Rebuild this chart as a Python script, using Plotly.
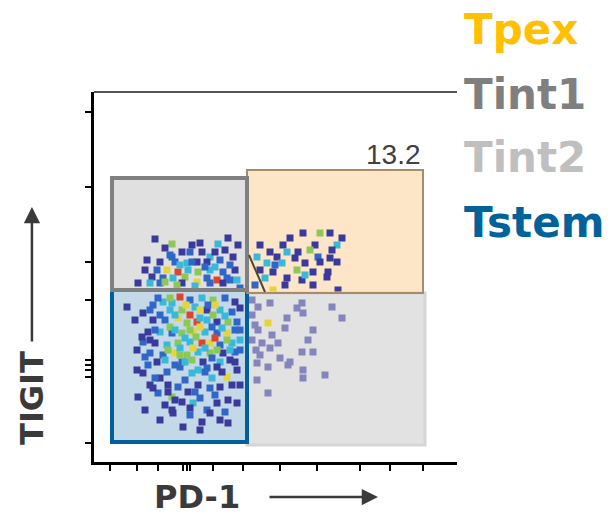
import plotly.graph_objects as go

# ---- data (PD-1 / TIGIT channel units) ----
pd1 = [65,82,138,128,135,148,92,100,112,82,120,70,85,97,107,117,130,143,67,77,88,98,108,120,133,145,62,73,83,95,107,117,127,137,147,48,60,70,92,120,133,
       213,230,240,252,170,193,225,247,180,197,208,220,242,167,187,205,228,177,192,215,247,170,183,207,223,238,175,197,212,237,183,223,248,165,
       37,53,63,73,90,100,112,123,135,145,80,92,105,117,130,142,63,75,88,97,107,117,127,138,147,58,70,82,92,103,115,127,137,53,65,77,88,100,112,120,130,142,
       60,73,85,97,108,120,133,145,67,92,113,130,52,55,
       53,77,90,102,117,127,137,147,60,68,78,88,98,108,120,130,48,82,92,103,117,138,127,82,100,120,93,138,147,63,83,
       168,180,212,207,242,213,252,178,197,195,223,168,182,188,218,172,180,212,223,170,190,200,178,167,235,213,213,198,167,178,162,165,162,166,162,
       68,82,96,118,150,70,85,100,123,135,80,110,122,132,150,60,95,106,125,137,150,78,90,103,115,127,150,75,102,122,140,85,108,70,95,122,150,75,110,55,135,110,70,
       55,102,125,140,87,105,150,75,110,
       45,47,58,65,85,100,110,95,115,132,140,145,105,85,125,65,100,142,112,78,130,90,125,60,145,47,80,110,
       80,125,57,102,140,115,90,75,
       200,185,215,230,195,240]
tigit = [231,226,232,226,220,225,218,218,218,213,213,208,208,207,208,208,210,213,200,200,198,200,198,200,198,200,193,192,192,193,188,192,190,192,190,187,187,187,187,187,187,
         237,237,237,232,225,225,225,225,218,218,218,220,220,213,213,212,213,207,207,207,208,200,198,200,198,198,192,192,190,193,180,185,180,185,
         163,157,165,168,173,170,172,170,172,168,160,160,163,160,160,158,150,150,152,147,148,150,148,148,148,138,138,137,137,138,138,137,137,128,127,125,127,128,127,127,125,127,
         117,115,117,115,118,117,117,118,108,108,108,108,133,113,
         97,98,103,97,102,103,93,100,85,77,85,83,78,85,82,83,73,73,68,67,60,70,67,60,55,57,43,47,67,82,57,
         163,167,167,162,163,157,152,147,152,142,140,140,135,127,130,127,122,118,118,115,112,108,77,90,95,92,100,105,107,103,155,145,130,120,170,
         172,167,165,165,162,155,155,155,155,154,143,143,143,142,140,130,132,133,132,130,130,120,122,122,122,120,120,110,110,112,110,105,100,92,90,92,85,65,72,60,58,40,50,
         200,208,203,205,185,184,182,222,227,
         150,120,105,140,140,140,152,108,98,98,120,140,78,70,75,92,62,85,48,78,50,115,165,160,108,100,172,160,
         215,218,210,225,190,203,205,188,
         232,205,195,208,185,212]
density = [1,4,1,3,1,1,1,2,1,2,3,1,2,3,1,1,2,1,2,5,6,3,4,3,2,1,1,2,3,4,5,2,6,2,3,1,3,2,1,2,1,
           1,4,1,1,1,1,1,3,1,3,1,4,1,3,1,1,2,3,3,1,1,1,1,4,1,1,3,1,1,1,5,1,1,2,
           1,1,2,3,6,2,3,4,2,1,3,4,3,1,3,2,1,2,5,4,6,3,1,4,2,1,3,2,4,5,3,2,5,2,1,3,4,3,6,5,2,3,
           2,2,5,4,3,4,1,2,1,2,1,3,1,2,
           1,2,2,3,2,1,5,1,1,2,1,2,1,1,2,1,1,4,1,3,2,1,1,1,2,1,1,1,1,1,1,
           0,0,0,0,0,0,0,5,0,0,0,0,0,0,0,0,0,0,0,0,0,0,0,0,0,0,0,0,0,0,0,0,0,0,0,
           2,3,5,2,1,2,3,6,4,3,4,5,2,3,2,1,3,4,6,4,3,4,3,5,3,4,2,3,4,2,1,2,3,1,2,3,1,1,2,1,2,1,1,
           1,2,3,2,4,3,2,1,1,
           1,1,2,2,3,4,3,3,2,1,3,2,2,1,2,2,1,1,1,1,1,4,5,2,1,1,4,5,
           2,1,1,1,2,2,3,4,
           1,2,3,1,1,1]

gate_names = ["Tint2", "Tstem", "Tpex", "Tint1"]
gate_x0 = [157, 22, 157, 22]
gate_x1 = [335, 157, 333, 157]
gate_y0 = [25, 28, 177, 180]
gate_y1 = [177, 180, 300, 292]
tpex_pct = "13.2"

legend_labels = ["Tpex", "Tint1", "Tint2", "Tstem"]

# ---- style ----
density_colors = {0: "#8585bd", 1: "#3a3a9c", 2: "#2f66c8", 3: "#3ab8d8",
                  4: "#8cc858", 5: "#e6d43a", 6: "#e0442a"}
gate_fill = {"Tint2": "#e2e2e2", "Tstem": "#c4d9e8", "Tpex": "#fde6c8", "Tint1": "#e0e0e0"}
gate_line = {"Tint2": ("#d6d6d6", 3), "Tstem": ("#00609c", 4), "Tpex": ("#a88c6a", 2), "Tint1": ("#808080", 4)}
legend_colors = {"Tpex": "#ffc000", "Tint1": "#7f7f7f", "Tint2": "#bfbfbf", "Tstem": "#00629b"}
TITLE_FONT = "DejaVu Sans, sans-serif"

fig = go.Figure()

shapes = []
for i, g in enumerate(gate_names):
    shapes.append(dict(type="rect", xref="x", yref="y", x0=gate_x0[i], x1=gate_x1[i],
                       y0=gate_y0[i], y1=gate_y1[i], fillcolor=gate_fill[g],
                       line=dict(width=0), layer="below"))
for i, g in enumerate(gate_names):
    c, w = gate_line[g]
    shapes.append(dict(type="rect", xref="x", yref="y", x0=gate_x0[i], x1=gate_x1[i],
                       y0=gate_y0[i], y1=gate_y1[i], fillcolor="rgba(0,0,0,0)",
                       line=dict(color=c, width=w), layer="above"))
# old gate boundary remnant inside Tpex
shapes.append(dict(type="line", xref="x", yref="y", x0=159, y0=215, x1=175, y1=178,
                   line=dict(color="#4a4a30", width=2), layer="above"))
# top frame line
shapes.append(dict(type="line", xref="paper", yref="paper", x0=0, x1=1, y0=1, y1=1,
                   line=dict(color="#555555", width=2)))

fig.add_trace(go.Scatter(
    x=pd1, y=tigit, mode="markers",
    marker=dict(symbol="square", size=7, color=[density_colors[d] for d in density],
                line=dict(width=0)),
    hoverinfo="skip", showlegend=False))

annotations = [
    dict(x=gate_x1[2], y=gate_y1[2], xref="x", yref="y", text=tpex_pct, showarrow=False,
         xanchor="right", yanchor="bottom", yshift=-2,
         font=dict(family="Liberation Sans, Arial", size=28, color="#404040")),
]
legend_y = [1.1676, 0.992, 0.824, 0.6486]
for lab, ly in zip(legend_labels, legend_y):
    annotations.append(dict(x=1.0138, y=ly, xref="paper", yref="paper", text="<b>%s</b>" % lab,
                            showarrow=False, xanchor="left", yanchor="middle",
                            font=dict(family=TITLE_FONT, size=42, color=legend_colors[lab])))
# axis titles with arrows
annotations.append(dict(x=-0.171, y=0.173, xref="paper", yref="paper", text="<b>TIGIT</b>",
                        showarrow=False, textangle=-90, xanchor="center", yanchor="middle",
                        font=dict(family=TITLE_FONT, size=32, color="#3a3a3a")))
annotations.append(dict(x=-0.171, y=(462 - 207) / 370, xref="paper", yref="paper", text="",
                        showarrow=True, ax=0, ay=136, arrowhead=2, arrowsize=1.3,
                        arrowwidth=2.5, arrowcolor="#3a3a3a"))
annotations.append(dict(x=0.2837, y=-0.0946, xref="paper", yref="paper", text="<b>PD-1</b>",
                        showarrow=False, xanchor="center", yanchor="middle",
                        font=dict(family=TITLE_FONT, size=32, color="#3a3a3a")))
annotations.append(dict(x=(378 - 94) / 363, y=(462 - 497) / 370, xref="paper", yref="paper",
                        text="", showarrow=True, ax=-110, ay=0, arrowhead=2, arrowsize=1.3,
                        arrowwidth=2.5, arrowcolor="#3a3a3a"))

fig.update_layout(
    width=613, height=517,
    margin=dict(l=94, r=156, t=92, b=55),
    paper_bgcolor="white", plot_bgcolor="white",
    shapes=shapes, annotations=annotations,
    xaxis=dict(range=[4, 367], showgrid=False, zeroline=False, showline=True,
               linecolor="black", linewidth=3, ticks="outside", ticklen=6, tickwidth=2,
               tickcolor="black", showticklabels=False,
               tickvals=[20, 47, 68, 93, 97, 100, 123, 153, 190, 227, 270, 300, 333]),
    yaxis=dict(range=[8, 378], showgrid=False, zeroline=False, showline=True,
               linecolor="black", linewidth=3, ticks="outside", ticklen=6, tickwidth=2,
               tickcolor="black", showticklabels=False,
               tickvals=[27, 93, 100, 105, 110, 170, 208, 283, 358]),
)

fig.write_html("out.html")
